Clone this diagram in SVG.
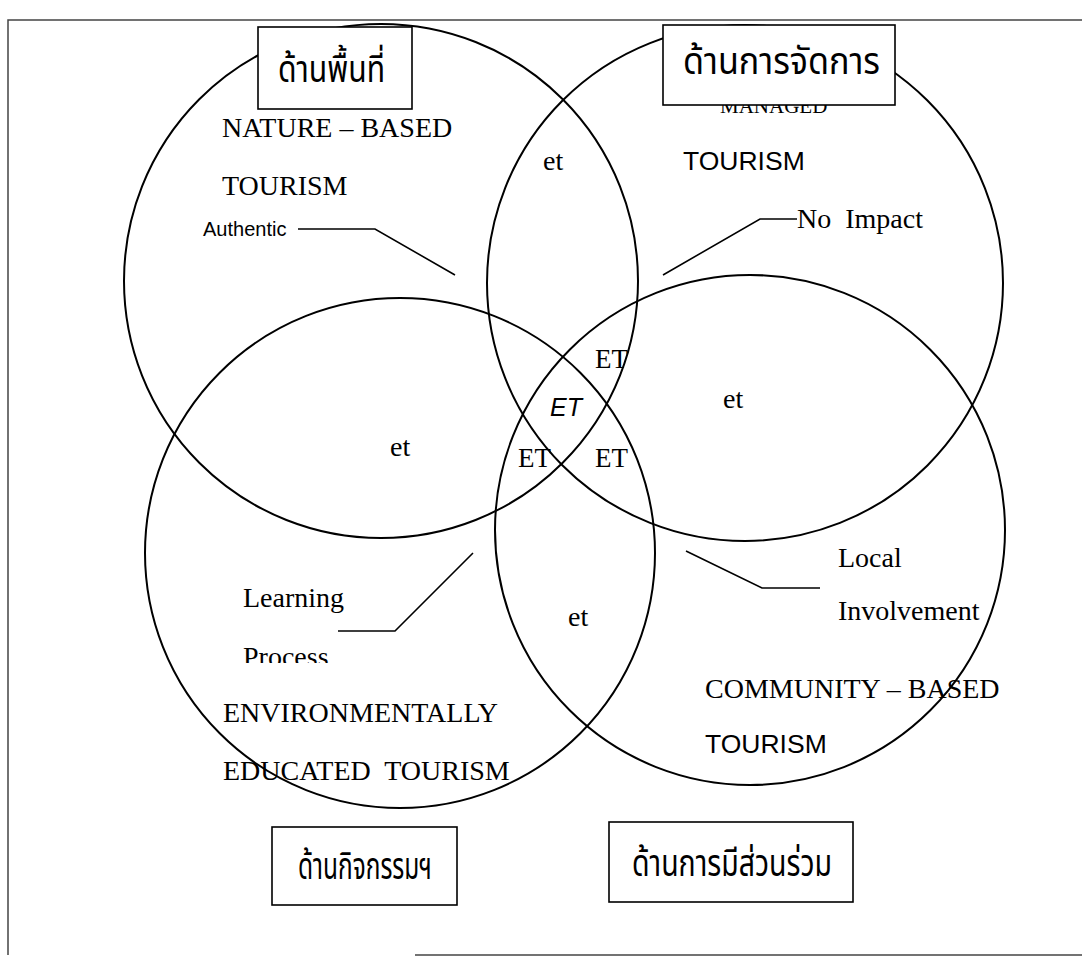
<svg xmlns="http://www.w3.org/2000/svg" width="1082" height="969" viewBox="0 0 1082 969">
<style>
.c{fill:none;stroke:#000;stroke-width:2}
.bx{fill:#fff;stroke:#000;stroke-width:1.6}
.ln{fill:none;stroke:#000;stroke-width:1.6}
.fr{fill:none;stroke:#444;stroke-width:1.5}
.t{font-family:"Liberation Serif","Times New Roman",serif;font-size:28px;fill:#000}
.a{font-family:"Liberation Sans",Arial,sans-serif;font-size:26.5px;fill:#000}
.et{font-size:27px}
.eti{font-size:25px;font-style:italic}
.sm{font-size:20px}
.mg{font-size:21px}
.th{font-family:"Noto Sans Thai","Noto Serif Thai","Garuda","Loma","Norasi","Tlwg Typo","Laksaman","Sawasdee",sans-serif;font-size:37px;fill:#000}
</style>
<rect width="1082" height="969" fill="#fff"/>
<path class="fr" d="M1082,20 H8 V955"/>
<line class="fr" x1="415" y1="955" x2="1082" y2="955"/>
<g id="labels-under">
<clipPath id="cm"><rect x="700" y="105" width="200" height="10"/></clipPath>
<text class="t mg" x="720" y="113" clip-path="url(#cm)">MANAGED</text>
</g>
<g id="circle-nature"><circle class="c" cx="381" cy="281" r="257"/></g>
<g id="circle-managed"><circle class="c" cx="745" cy="283" r="258"/></g>
<g id="circle-environment"><circle class="c" cx="400" cy="553" r="255"/></g>
<g id="circle-community"><circle class="c" cx="750" cy="530" r="255"/></g>
<g id="connectors">
<polyline class="ln" points="298,229 375,229 455,275"/>
<polyline class="ln" points="797,219 760,219 663,275"/>
<polyline class="ln" points="338,631 395,631 473,553"/>
<polyline class="ln" points="686,551 762,588 820,588"/>
</g>
<g id="box-area">
<rect class="bx" x="258" y="27" width="154" height="82"/>
<text class="th" x="278" y="82" textLength="107" lengthAdjust="spacingAndGlyphs">ด้านพื้นที่</text>
</g>
<g id="box-manage">
<rect class="bx" x="663" y="25" width="232" height="80"/>
<text class="th" x="683" y="74" textLength="197" lengthAdjust="spacingAndGlyphs">ด้านการจัดการ</text>
</g>
<g id="box-activity">
<rect class="bx" x="272" y="827" width="185" height="78"/>
<text class="th" x="298" y="879" textLength="134" lengthAdjust="spacingAndGlyphs">ด้านกิจกรรมฯ</text>
</g>
<g id="box-participation">
<rect class="bx" x="609" y="822" width="244" height="80"/>
<text class="th" x="632" y="876" textLength="200" lengthAdjust="spacingAndGlyphs">ด้านการมีส่วนร่วม</text>
</g>
<g id="text-nature">
<text class="t" x="222" y="137">NATURE – BASED</text>
<text class="t" x="222" y="195">TOURISM</text>
<text class="a sm" x="203" y="236">Authentic</text>
</g>
<g id="text-managed">
<text class="a" x="683" y="170">TOURISM</text>
<text class="t" x="797" y="228" xml:space="preserve">No  Impact</text>
</g>
<g id="text-environment">
<text class="t" x="243" y="607">Learning</text>
<clipPath id="cp"><rect x="230" y="630" width="200" height="33"/></clipPath>
<text class="t" x="243" y="666" clip-path="url(#cp)">Process</text>
<text class="t" x="223" y="722">ENVIRONMENTALLY</text>
<text class="t" x="223" y="780" xml:space="preserve">EDUCATED  TOURISM</text>
</g>
<g id="text-community">
<text class="t" x="838" y="567">Local</text>
<text class="t" x="838" y="620">Involvement</text>
<text class="t" x="705" y="698">COMMUNITY – BASED</text>
<text class="a" x="705" y="753">TOURISM</text>
</g>
<g id="text-overlaps">
<text class="t" x="543" y="170">et</text>
<text class="t" x="390" y="456">et</text>
<text class="t" x="723" y="408">et</text>
<text class="t" x="568" y="626">et</text>
<text class="t et" x="595" y="368">ET</text>
<text class="a eti" x="550" y="416">ET</text>
<text class="t et" x="518" y="467">ET</text>
<text class="t et" x="595" y="467">ET</text>
</g>
</svg>
